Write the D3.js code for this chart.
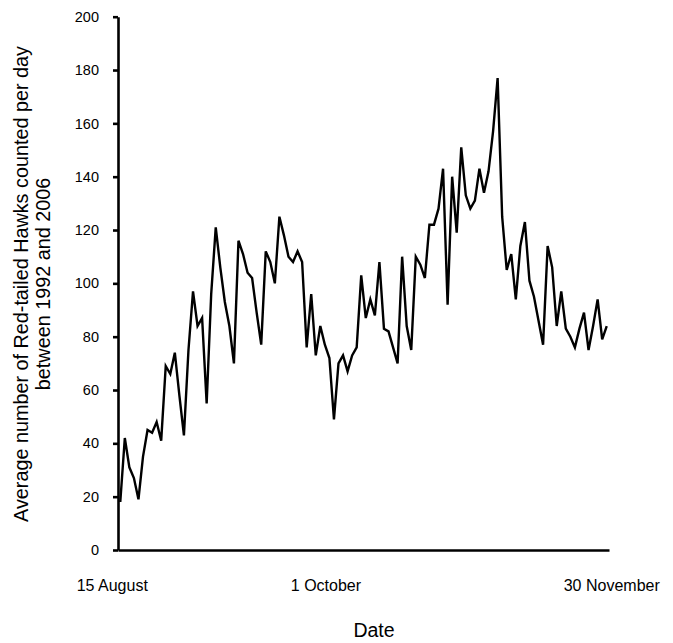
<!DOCTYPE html>
<html>
<head>
<meta charset="utf-8">
<script src="https://cdn.jsdelivr.net/npm/d3@7"></script>
<style>
  body { margin: 0; background: #fff; }
  text { font-family: "Liberation Sans", Arial, sans-serif; fill: #000; }
</style>
</head>
<body>
<div id="chart"></div>
<script>
// average Red-tailed Hawks per day, 15 Aug .. 30 Nov (one value per day)
const counts = [
  18, 42, 31, 27, 19, 35, 45, 44, 48, 41,
  69, 66, 74, 58, 43, 75, 97, 84, 87, 55,
  96, 121, 106, 93, 84, 70, 116, 111, 104, 102,
  89, 77, 112, 108, 100, 125, 118, 110, 108, 112,
  108, 76, 96, 73, 84, 77, 72, 49, 70, 73,
  67, 73, 76, 103, 87, 94, 88, 108, 83, 82,
  76, 70, 110, 84, 75, 110, 107, 102, 122, 122,
  128, 143, 92, 140, 119, 151, 133, 128, 131, 143,
  134, 142, 157, 177, 125, 105, 111, 94, 114, 123,
  101, 95, 86, 77, 114, 106, 84, 97, 83, 80,
  76, 83, 89, 75, 84, 94, 79, 84
];

const yTicks = [0, 20, 40, 60, 80, 100, 120, 140, 160, 180, 200];
const xTickLabels = ["15 August", "1 October", "30 November"];
const xTickDays = [0, 47, 107];
const xTickShift = [-8, -8, 5]; // px, labels sit a bit off their day

const width = 673,
    height = 643,
    plot = {left: 118, right: 609, top: 16.7, bottom: 550};

let svg = d3.select("#chart")
    .append("svg")
    .attr("width", width)
    .attr("height", height);

// category axis: each day sits in the middle of its slot
let x = d3.scaleLinear()
    .domain([-0.5, counts.length - 0.5])
    .range([plot.left, plot.right]);

let y = d3.scaleLinear()
    .domain([0, 200])
    .range([plot.bottom, plot.top]);

// line
let line = d3.line()
    .x((d, i) => x(i))
    .y(d => y(d));

svg.append("path")
    .datum(counts)
    .attr("fill", "none")
    .attr("stroke", "#000")
    .attr("stroke-width", 2.4)
    .attr("stroke-linejoin", "miter")
    .attr("d", line);

// y axis
let yAxis = svg.append("g")
    .attr("transform", `translate(${plot.left},0)`)
    .call(d3.axisLeft(y)
        .tickValues(yTicks)
        .tickSize(5)
        .tickSizeOuter(0)
        .tickPadding(14));
yAxis.attr("font-family", null);
yAxis.selectAll("path, line")
    .attr("stroke", "#000")
    .attr("stroke-width", 2.6);
yAxis.selectAll("text")
    .attr("font-size", 14.5);

// x axis, no tick marks
let xAxis = svg.append("g")
    .attr("transform", `translate(0,${plot.bottom})`)
    .call(d3.axisBottom(x).tickValues([]).tickSizeOuter(0));
xAxis.select("path")
    .attr("stroke", "#000")
    .attr("stroke-width", 2.6);

svg.append("g")
    .selectAll("text")
    .data(xTickLabels)
    .join("text")
    .attr("x", (d, i) => x(xTickDays[i]) + xTickShift[i])
    .attr("y", 591)
    .attr("text-anchor", "middle")
    .attr("font-size", 16)
    .text(d => d);

// axis titles
svg.append("text")
    .attr("x", 374)
    .attr("y", 637)
    .attr("text-anchor", "middle")
    .attr("font-size", 19.5)
    .text("Date");

let yTitle = svg.append("text")
    .attr("transform", "translate(0,284) rotate(-90)")
    .attr("text-anchor", "middle")
    .attr("font-size", 19.8);
yTitle.append("tspan")
    .attr("x", 0)
    .attr("y", 28)
    .text("Average number of Red-tailed Hawks counted per day");
yTitle.append("tspan")
    .attr("x", 0)
    .attr("y", 50)
    .text("between 1992 and 2006");
</script>
</body>
</html>
